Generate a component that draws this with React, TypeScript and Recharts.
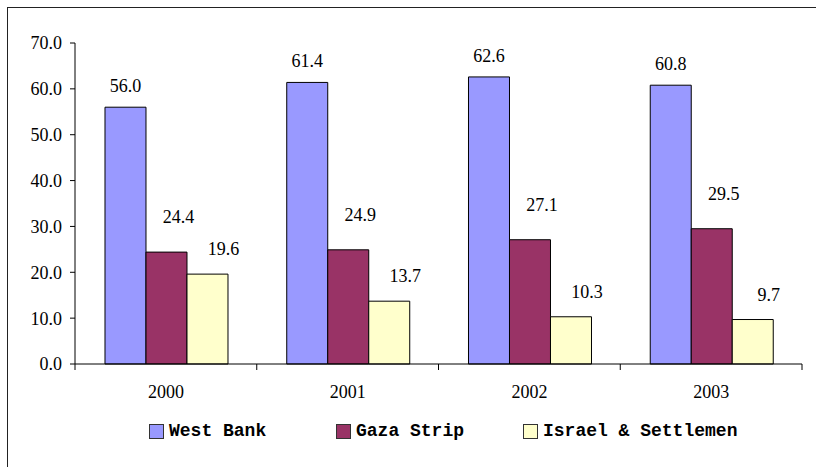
import { Bar, BarChart, LabelList, XAxis, YAxis } from "recharts";

const ANOS = ["2000", "2001", "2002", "2003"];
const WEST_BANK = [56.0, 61.4, 62.6, 60.8];
const GAZA = [24.4, 24.9, 27.1, 29.5];
const ISRAEL = [19.6, 13.7, 10.3, 9.7];
const TICKS_Y = [0, 10, 20, 30, 40, 50, 60, 70];

const SERIES = [
  { key: "wb", nome: "West Bank", cor: "#9999FF", dx: 0, gap: 21 },
  { key: "gz", nome: "Gaza Strip", cor: "#993366", dx: 12, gap: 35 },
  { key: "is", nome: "Israel & Settlemen", cor: "#FFFFCC", dx: 16, gap: 25 },
];

const SERIF = '"Liberation Serif", "Times New Roman", serif';
const MONO = '"Liberation Mono", "Courier New", monospace';

const dados = ANOS.map((ano, i) => ({
  ano,
  wb: WEST_BANK[i],
  gz: GAZA[i],
  is: ISRAEL[i],
}));

// rótulo de valor acima da barra, com deslocamento por série
function rotulo(dx: number, gap: number) {
  return (p: any) => {
    const { x, y, width, value } = p;
    return (
      <text
        x={Number(x) + Number(width) / 2 + dx}
        y={Number(y) - gap}
        textAnchor="middle"
        dominantBaseline="central"
        fontFamily={SERIF}
        fontSize={18}
        fill="#000"
      >
        {Number(value).toFixed(1)}
      </text>
    );
  };
}

// tick do eixo X: marca nas divisas das categorias, texto no centro
function TickAno(p: any) {
  const { x, y, payload, index } = p;
  const meia = payload?.offset || 90.875;
  return (
    <g>
      <line x1={x - meia} x2={x - meia} y1={y} y2={y + 6} stroke="#000" />
      {index === ANOS.length - 1 && (
        <line x1={x + meia} x2={x + meia} y1={y} y2={y + 6} stroke="#000" />
      )}
      <text
        x={x}
        y={y + 28}
        textAnchor="middle"
        dominantBaseline="central"
        fontFamily={SERIF}
        fontSize={18}
        fill="#000"
      >
        {payload.value}
      </text>
    </g>
  );
}

function Legenda() {
  return (
    <div style={{ display: "flex", position: "absolute", left: 149, top: 421 }}>
      {SERIES.map((s) => (
        <div
          key={s.key}
          style={{ width: 187, flexShrink: 0, display: "flex", alignItems: "center" }}
        >
          <span
            style={{
              display: "inline-block",
              flexShrink: 0,
              width: 13,
              height: 13,
              background: s.cor,
              border: "1px solid #333",
              marginRight: 5,
            }}
          />
          <span
            style={{
              fontFamily: MONO,
              fontWeight: "bold",
              fontSize: 18,
              color: "#000",
              whiteSpace: "nowrap",
            }}
          >
            {s.nome}
          </span>
        </div>
      ))}
    </div>
  );
}

export default function App() {
  return (
    <div
      style={{
        position: "fixed",
        left: 0,
        top: 0,
        width: 816,
        height: 467,
        overflow: "hidden",
        background: "#fff",
      }}
    >
      <div
        style={{
          position: "absolute",
          left: 7,
          top: 7,
          width: 860,
          height: 500,
          border: "1px solid #222",
        }}
      />
      <div style={{ position: "absolute", left: 0, top: 0 }}>
        <BarChart
          width={816}
          height={467}
          data={dados}
          margin={{ top: 43, right: 14, left: 8, bottom: 63 }}
          barCategoryGap="16.5%"
          barGap={0}
        >
          <XAxis
            dataKey="ano"
            height={40}
            axisLine={{ stroke: "#000" }}
            tickLine={false}
            tickSize={0}
            tickMargin={0}
            tick={<TickAno />}
            interval={0}
          />
          <YAxis
            width={67}
            domain={[0, 70]}
            ticks={TICKS_Y}
            tickFormatter={(v: number) => v.toFixed(1)}
            axisLine={{ stroke: "#000" }}
            tickLine={{ stroke: "#000" }}
            tickSize={5}
            tickMargin={8}
            tick={{ fontFamily: SERIF, fontSize: 18, fill: "#000" }}
          />
          {SERIES.map((s) => (
            <Bar
              key={s.key}
              dataKey={s.key}
              name={s.nome}
              fill={s.cor}
              stroke="#000"
              strokeWidth={1}
              isAnimationActive={false}
            >
              <LabelList dataKey={s.key} content={rotulo(s.dx, s.gap)} />
            </Bar>
          ))}
        </BarChart>
      </div>
      <Legenda />
    </div>
  );
}
